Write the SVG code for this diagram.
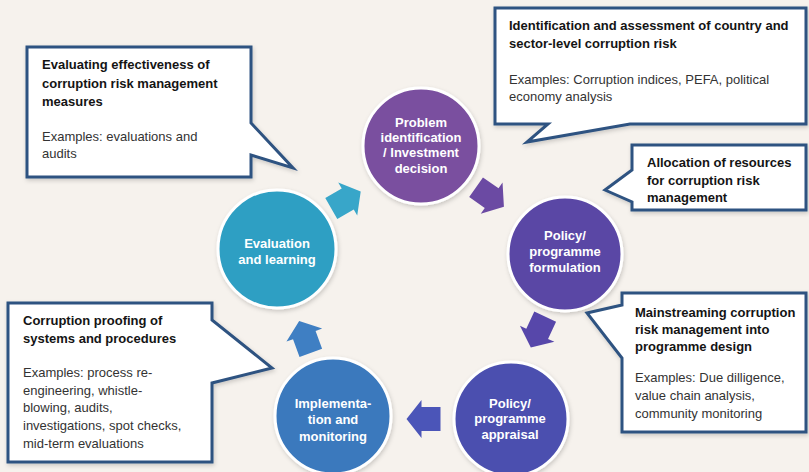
<svg xmlns="http://www.w3.org/2000/svg" width="809" height="472" viewBox="0 0 809 472">
<defs>
<style>
.bg{fill:#f6f2ed}
.call{fill:#ffffff;stroke:#2f5381;stroke-width:3;stroke-linejoin:miter;filter:url(#sh)}
.b{font-family:"Liberation Sans",Arial,sans-serif;font-size:13px;font-weight:bold;fill:#141414}
.r{font-family:"Liberation Sans",Arial,sans-serif;font-size:13px;fill:#333333}
.ct{font-family:"Liberation Sans",Arial,sans-serif;font-size:13px;font-weight:bold;fill:#ffffff;text-anchor:middle}
.circ{stroke:#ffffff;stroke-width:3;filter:url(#sh)}
</style>
<filter id="sh" x="-10%" y="-10%" width="120%" height="120%">
<feDropShadow dx="1" dy="2" stdDeviation="2" flood-color="#000000" flood-opacity="0.18"/>
</filter>
<path id="arr" d="M-17,-12 H2 V-19 L17,0 L2,19 V12 H-17 Z"/>
</defs>
<rect class="bg" x="0" y="0" width="809" height="472"/>

<g id="connectors">
<use href="#arr" fill="#38a6c9" transform="translate(346,200) rotate(-30)"/>
<use href="#arr" fill="#6b4aa3" transform="translate(490,197) rotate(35)"/>
<use href="#arr" fill="#5747aa" transform="translate(538,332) rotate(115)"/>
<use href="#arr" fill="#4b55b8" transform="translate(423.5,419) rotate(180)"/>
<use href="#arr" fill="#3f7fc3" transform="translate(305,337) rotate(-110)"/>
</g>

<g id="node-problem">
<circle class="circ" cx="421" cy="146" r="58" fill="#7a4f9f"/>
<text class="ct" x="421" y="127">Problem</text>
<text class="ct" x="421" y="142">identification</text>
<text class="ct" x="421" y="157">/ Investment</text>
<text class="ct" x="421" y="173">decision</text>
</g>
<g id="node-formulation">
<circle class="circ" cx="565" cy="254" r="57" fill="#5a46a5"/>
<text class="ct" x="565" y="240">Policy/</text>
<text class="ct" x="565" y="256">programme</text>
<text class="ct" x="565" y="272">formulation</text>
</g>
<g id="node-appraisal">
<circle class="circ" cx="511" cy="419" r="57" fill="#4b50af"/>
<text class="ct" x="510" y="408">Policy/</text>
<text class="ct" x="510" y="423">programme</text>
<text class="ct" x="510" y="439">appraisal</text>
</g>
<g id="node-implementation">
<circle class="circ" cx="333" cy="416" r="58" fill="#3b79bd"/>
<text class="ct" x="333" y="408">Implementa-</text>
<text class="ct" x="333" y="424">tion and</text>
<text class="ct" x="333" y="441">monitoring</text>
</g>
<g id="node-evaluation">
<circle class="circ" cx="277" cy="249" r="59" fill="#2e9fc3"/>
<text class="ct" x="277" y="248">Evaluation</text>
<text class="ct" x="277" y="264">and learning</text>
</g>

<g id="callout-evaluating">
<path class="call" d="M27,47 H251 V123 L293,168 L251,155 V177 H27 Z"/>
<text class="b" x="42" y="69">Evaluating effectiveness of</text>
<text class="b" x="42" y="88">corruption risk management</text>
<text class="b" x="42" y="106">measures</text>
<text class="r" x="42" y="141">Examples: evaluations and</text>
<text class="r" x="42" y="158">audits</text>
</g>
<g id="callout-identification">
<path class="call" d="M495,8 H806 V124 H630 L527,142 L548,124 H495 Z"/>
<text class="b" x="509" y="30">Identification and assessment of country and</text>
<text class="b" x="509" y="48">sector-level corruption risk</text>
<text class="r" x="509" y="84">Examples: Corruption indices, PEFA, political</text>
<text class="r" x="509" y="101">economy analysis</text>
</g>
<g id="callout-allocation">
<path class="call" d="M632,145 H806 V210 H632 V202 L605,190 L632,170 Z"/>
<text class="b" x="647" y="167">Allocation of resources</text>
<text class="b" x="647" y="185">for corruption risk</text>
<text class="b" x="647" y="202">management</text>
</g>
<g id="callout-mainstreaming">
<path class="call" d="M622,293 H806 V432 H622 V358 L587,313 L622,305 Z"/>
<text class="b" x="635" y="317">Mainstreaming corruption</text>
<text class="b" x="635" y="334">risk management into</text>
<text class="b" x="635" y="351">programme design</text>
<text class="r" x="635" y="382">Examples: Due dilligence,</text>
<text class="r" x="635" y="400">value chain analysis,</text>
<text class="r" x="635" y="418">community monitoring</text>
</g>
<g id="callout-proofing">
<path class="call" d="M8,303 H212 V320 L272,368 L212,383 V462 H8 Z"/>
<text class="b" x="23" y="325">Corruption proofing of</text>
<text class="b" x="23" y="343">systems and procedures</text>
<text class="r" x="23" y="377">Examples: process re-</text>
<text class="r" x="23" y="395">engineering, whistle-</text>
<text class="r" x="23" y="412">blowing, audits,</text>
<text class="r" x="23" y="430">investigations, spot checks,</text>
<text class="r" x="23" y="448">mid-term evaluations</text>
</g>
</svg>
